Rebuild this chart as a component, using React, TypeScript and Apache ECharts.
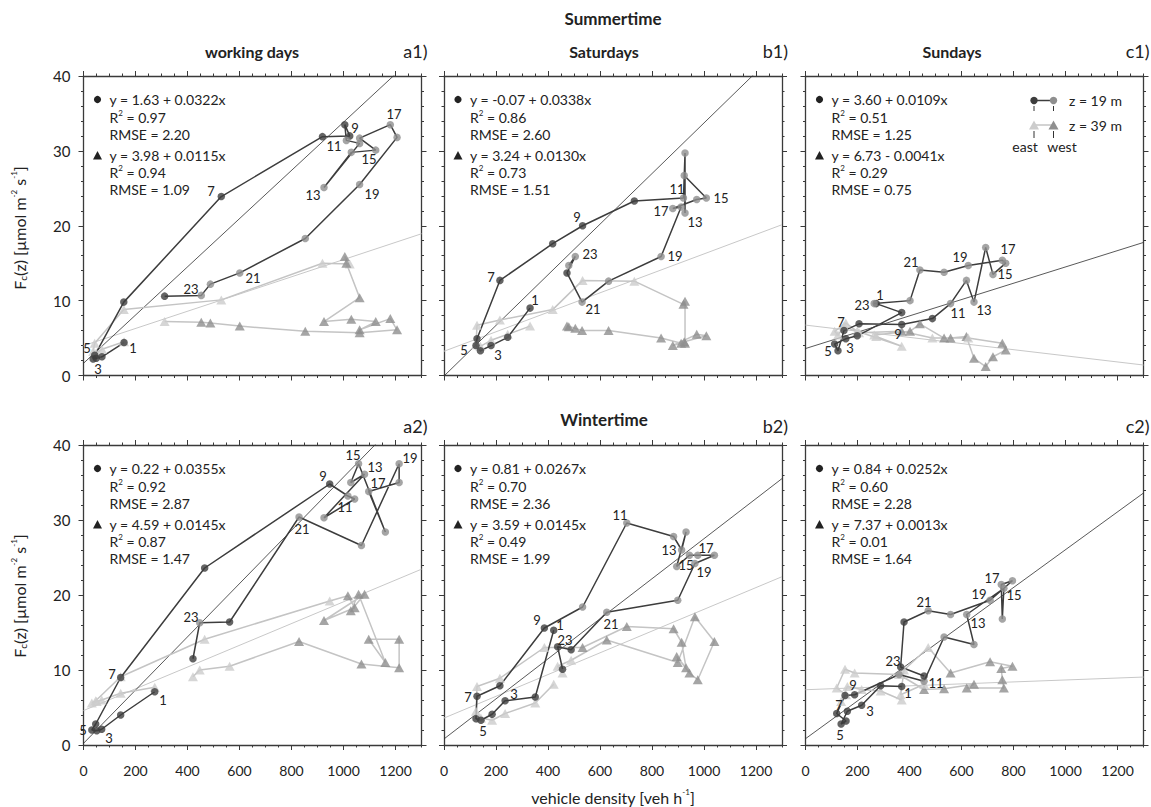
import { useEffect, useRef } from 'react';
import * as echarts from 'echarts';

const FONT = 'Lato, "Open Sans", "DejaVu Sans", sans-serif';

const seasonTitles = ['Summertime', 'Wintertime'];
const dayTitles = ['working days', 'Saturdays', 'Sundays'];
const panelTags = ['a1)', 'b1)', 'c1)', 'a2)', 'b2)', 'c2)'];
const xMajorTicks = [0, 200, 400, 600, 800, 1000, 1200];

// ---------- a1: summer, working days ----------
const a1Density = [156, 71, 49, 37, 43, 155, 530, 919, 1024, 1005, 1011, 1062, 925, 1030, 1124, 1062, 1180, 1206, 1062, 853, 601, 488, 453, 312];
const a1Flux19 = [4.4, 2.5, 2.3, 2.2, 2.7, 9.8, 23.9, 31.9, 32.0, 33.5, 31.4, 31.0, 25.1, 29.8, 30.1, 31.7, 33.5, 31.8, 25.5, 18.3, 13.7, 12.2, 10.7, 10.6];
const a1Flux39 = [4.5, 3.5, 3.0, 3.2, 4.3, 8.8, 10.1, 15.0, 14.9, 15.9, 15.0, 10.4, 7.2, 7.5, 7.2, 6.1, 7.6, 6.1, 5.7, 5.9, 6.6, 7.0, 7.1, 7.2];
const a1Wind19 = 'EEEEEEEEEEWWWWWWWWWWWWWE';
const a1Wind39 = 'EEEEEEEEEWWWWWWWWWWWWWWE';
const a1Fit = [1.63, 0.0322, 3.98, 0.0115];
const a1Stats = ['0.97', '2.20', '0.94', '1.09'];
const a1Hours = [['1', 0, 9, 5], ['3', 2, 2, 11], ['5', 4, -8, -7], ['7', 6, -10, -6], ['9', 8, 5, -8], ['11', 10, -12, 6], ['13', 12, -11, 7], ['15', 14, -7, 9], ['17', 16, 4, -11], ['19', 18, 12, 9], ['21', 20, 13, 5], ['23', 22, -10, -6]];

// ---------- b1: summer, Saturdays ----------
const b1Density = [331, 245, 181, 140, 123, 127, 215, 418, 533, 732, 921, 927, 927, 924, 1009, 972, 880, 912, 835, 633, 531, 473, 505, 480];
const b1Flux19 = [9.0, 5.1, 4.0, 3.3, 4.0, 4.9, 12.7, 17.6, 20.0, 23.3, 23.7, 29.7, 21.7, 26.7, 23.7, 23.5, 22.3, 22.5, 15.9, 12.6, 9.8, 13.7, 15.9, 14.7];
const b1Flux39 = [6.6, 5.5, 4.7, 3.9, 4.1, 6.7, 7.4, 8.8, 12.7, 12.6, 9.5, 9.9, 4.3, 4.5, 5.3, 5.5, 4.0, 4.3, 5.0, 6.0, 6.0, 6.6, 6.3, 6.5];
const b1Wind19 = 'EEEEEEEEEEWWWWWWWWWWWEWW';
const b1Wind39 = 'EEEEEEEEEEWWWWWWWWWWWWWW';
const b1Fit = [-0.07, 0.0338, 3.24, 0.013];
const b1Stats = ['0.86', '2.60', '0.73', '1.51'];
const b1Hours = [['1', 0, 5, -8], ['3', 2, 7, 9], ['5', 4, -12, 4], ['7', 6, -9, -3], ['9', 8, -6, -9], ['11', 10, -6, -9], ['13', 12, 10, 9], ['15', 14, 15, 0], ['17', 16, -12, 2], ['19', 18, 14, 0], ['21', 20, 11, 7], ['23', 22, 15, -2]];

// ---------- c1: summer, Sundays ----------
const c1Density = [272, 370, 199, 155, 112, 125, 148, 206, 370, 488, 558, 619, 648, 693, 721, 770, 757, 626, 533, 440, 402, 264];
const c1Flux19 = [9.6, 8.4, 5.3, 4.9, 4.2, 3.3, 6.0, 6.9, 6.8, 7.6, 9.6, 12.7, 9.8, 17.1, 13.5, 15.0, 15.4, 14.7, 13.8, 14.1, 10.0, 9.6];
const c1Flux39 = [5.2, 3.9, 5.9, 7.0, 5.9, 5.4, 6.6, 5.7, 5.9, 5.0, 5.0, 5.2, 2.3, 1.2, 2.5, 3.4, 4.3, 5.0, 5.0, 6.9, 5.9, 5.4];
const c1Wind19 = 'EEEEEEEEEEWWWWWWWWWWWW';
const c1Wind39 = 'EEEEEEEEWEWWWWWWWEWWWE';
const c1Fit = [3.6, 0.0109, 6.73, -0.0041];
const c1Stats = ['0.51', '1.25', '0.29', '0.75'];
const c1Hours = [['1', 0, 4, -9], ['3', 2, -7, 12], ['5', 4, -7, 7], ['7', 6, -3, -9], ['9', 8, -4, 9], ['11', 10, 7, 9], ['13', 12, 10, 8], ['15', 14, 12, 0], ['17', 16, 6, -11], ['19', 17, -8, -8], ['21', 19, -9, -8], ['23', 21, -12, 1]];

// ---------- a2: winter, working days ----------
const a2Density = [274, 143, 70, 51, 32, 47, 143, 466, 947, 1017, 1043, 925, 1081, 1028, 1058, 1161, 1097, 1214, 1214, 1069, 829, 562, 447, 421];
const a2Flux19 = [7.1, 4.0, 2.1, 1.9, 2.0, 2.8, 9.0, 23.6, 34.8, 33.2, 32.8, 30.3, 36.1, 35.0, 37.5, 28.4, 33.8, 35.0, 37.5, 26.6, 30.4, 16.4, 16.3, 11.5];
const a2Flux39 = [7.7, 6.9, 6.0, 5.8, 5.6, 5.9, 9.1, 14.1, 19.2, 19.9, 18.3, 16.6, 20.1, 17.9, 20.1, 11.0, 14.1, 14.1, 10.3, 10.8, 13.8, 10.5, 10.0, 9.1];
const a2Wind19 = 'EEEEEEEEEWWWWWWWWWWWWEWE';
const a2Wind39 = 'EEEEEEEEEWWWWWWWWWWWWEEE';
const a2Fit = [0.22, 0.0355, 4.59, 0.0145];
const a2Stats = ['0.92', '2.87', '0.87', '1.47'];
const a2Hours = [['1', 0, 8, 8], ['3', 2, 7, 9], ['5', 4, -9, 0], ['7', 6, -9, -4], ['9', 8, -7, -8], ['11', 10, -10, 8], ['13', 12, 10, -7], ['15', 14, -6, -9], ['17', 16, 9, -9], ['19', 18, 11, -6], ['21', 20, 3, 12], ['23', 22, -9, -6]];

// ---------- b2: winter, Saturdays ----------
const b2Density = [422, 351, 235, 185, 142, 123, 127, 215, 386, 533, 703, 883, 914, 931, 895, 944, 976, 1040, 965, 899, 626, 489, 437, 456];
const b2Flux19 = [15.3, 6.4, 5.9, 4.1, 3.3, 3.5, 6.5, 7.9, 15.6, 18.4, 29.6, 27.8, 26.0, 28.4, 23.8, 25.3, 25.3, 25.3, 24.2, 19.3, 17.7, 12.7, 13.1, 10.1];
const b2Flux39 = [8.1, 5.6, 4.2, 3.3, 3.6, 4.5, 7.8, 8.9, 13.0, 13.0, 15.8, 15.5, 13.7, 10.3, 11.8, 9.6, 8.7, 13.8, 17.1, 11.0, 14.0, 11.3, 10.5, 9.6];
const b2Wind19 = 'EEEEEEEEEWWWWWWWWWWWWEEE';
const b2Wind39 = 'EEEEEEEEEWWWWWWWWWWWWEEE';
const b2Fit = [0.81, 0.0267, 3.59, 0.0145];
const b2Stats = ['0.70', '2.36', '0.49', '1.99'];
const b2Hours = [['1', 0, 6, -5], ['3', 2, 9, -7], ['5', 4, 2, 11], ['7', 6, -9, 1], ['9', 8, -7, -8], ['11', 10, -7, -8], ['13', 12, -13, 0], ['15', 14, 9, -2], ['17', 16, 8, -7], ['19', 18, 9, 8], ['21', 20, 4, 12], ['23', 22, 7, -7]];

// ---------- c2: winter, Sundays ----------
const c2Density = [370, 289, 216, 161, 137, 156, 120, 152, 189, 360, 456, 533, 648, 620, 763, 757, 753, 796, 710, 558, 472, 379, 366, 456];
const c2Flux19 = [7.8, 7.9, 5.3, 4.5, 2.8, 3.2, 4.2, 6.6, 6.7, 9.4, 8.5, 14.4, 13.4, 17.4, 20.9, 16.8, 21.4, 21.9, 19.3, 17.4, 17.9, 16.4, 10.4, 9.2];
const c2Flux39 = [6.0, 7.2, 7.4, 7.8, 5.8, 6.7, 7.6, 10.1, 9.6, 9.4, 7.4, 7.5, 8.1, 7.6, 7.6, 8.7, 10.2, 10.5, 11.1, 9.6, 13.0, 10.0, 6.7, 8.1];
const c2Wind19 = 'EEEEEEEEEWWWWWWWWWWWWEEE';
const c2Wind39 = 'EEEEEEEEEEWWWWWWWWWWEEEE';
const c2Fit = [0.84, 0.0252, 7.37, 0.0013];
const c2Stats = ['0.60', '2.28', '0.01', '1.64'];
const c2Hours = [['1', 0, 6, 6], ['3', 2, 8, 6], ['5', 4, -1, 11], ['7', 6, 2, -9], ['9', 8, -2, -10], ['11', 10, 12, 2], ['13', 13, 11, 8], ['15', 14, 10, 7], ['17', 16, -9, -7], ['19', 18, -11, -6], ['21', 20, -4, -9], ['23', 22, -8, -6]];

const panels = [
  { density: a1Density, f19: a1Flux19, f39: a1Flux39, w19: a1Wind19, w39: a1Wind39, fit: a1Fit, stats: a1Stats, hours: a1Hours },
  { density: b1Density, f19: b1Flux19, f39: b1Flux39, w19: b1Wind19, w39: b1Wind39, fit: b1Fit, stats: b1Stats, hours: b1Hours },
  { density: c1Density, f19: c1Flux19, f39: c1Flux39, w19: c1Wind19, w39: c1Wind39, fit: c1Fit, stats: c1Stats, hours: c1Hours },
  { density: a2Density, f19: a2Flux19, f39: a2Flux39, w19: a2Wind19, w39: a2Wind39, fit: a2Fit, stats: a2Stats, hours: a2Hours },
  { density: b2Density, f19: b2Flux19, f39: b2Flux39, w19: b2Wind19, w39: b2Wind39, fit: b2Fit, stats: b2Stats, hours: b2Hours },
  { density: c2Density, f19: c2Flux19, f39: c2Flux39, w19: c2Wind19, w39: c2Wind39, fit: c2Fit, stats: c2Stats, hours: c2Hours },
];

// ---------- layout & style ----------
const colLeft = [83.5, 444, 805.5];
const colWidth = 338;
const rowTop = [76, 445];
const rowHeight = [299.5, 300];
const AXIS = '#3a3a3a';
const TEXT = '#222222';
const C19E = '#3d3d3d';
const C19W = '#8f8f8f';
const C39E = '#cccccc';
const C39W = '#8f8f8f';
const LINE19 = '#3d3d3d';
const LINE39 = '#c4c4c4';

const fmtEq = (a: number, b: number) =>
  `y = ${a.toFixed(2)} ${b < 0 ? '-' : '+'} ${Math.abs(b).toFixed(4)}x`;

function buildOption() {
  const grid: any[] = [];
  const xAxis: any[] = [];
  const yAxis: any[] = [];
  const series: any[] = [];
  const graphic: any[] = [];
  const tickStyle = { color: AXIS, width: 1 };
  const richSup = {
    sup: { fontSize: 8, fontFamily: FONT, fill: TEXT, verticalAlign: 'top', lineHeight: 17 },
    sub: { fontSize: 10, fontFamily: FONT, fill: TEXT, verticalAlign: 'bottom', lineHeight: 17 },
  };

  panels.forEach((p, i) => {
    const row = Math.floor(i / 3);
    const col = i % 3;
    const left = colLeft[col];
    const top = rowTop[row];
    const h = rowHeight[row];
    grid.push({ left, top, width: colWidth, height: h, containLabel: false });

    const xi = xAxis.length;
    const baseX = { gridIndex: i, type: 'value', min: 0, max: 1300, splitLine: { show: false } };
    ['bottom', 'top'].forEach((pos) => {
      xAxis.push({
        ...baseX,
        position: pos,
        interval: 200,
        axisLine: { show: true, onZero: false, lineStyle: { color: AXIS, width: 1.3 } },
        axisTick: { show: true, length: 5, customValues: xMajorTicks, lineStyle: tickStyle },
        axisLabel: {
          show: pos === 'bottom' && row === 1,
          customValues: xMajorTicks,
          margin: 18,
          fontSize: 14,
          fontFamily: FONT,
          color: TEXT,
          formatter: (v: number) => (v % 200 === 0 ? String(v) : ''),
        },
      });
      xAxis.push({
        ...baseX,
        position: pos,
        interval: 50,
        axisLine: { show: false, onZero: false },
        axisTick: { show: true, length: 2.5, lineStyle: tickStyle },
        axisLabel: { show: false },
      });
    });

    const yi = yAxis.length;
    ['left', 'right'].forEach((pos) => {
      yAxis.push({
        gridIndex: i,
        type: 'value',
        min: 0,
        max: 40,
        interval: 10,
        position: pos,
        axisLine: { show: true, onZero: false, lineStyle: { color: AXIS, width: 1.3 } },
        axisTick: { show: true, length: 5, lineStyle: tickStyle },
        minorTick: { show: true, splitNumber: 5, length: 2.5, lineStyle: tickStyle },
        axisLabel: {
          show: pos === 'left' && col === 0,
          margin: 13,
          fontSize: 15,
          fontFamily: FONT,
          color: TEXT,
        },
        splitLine: { show: false },
        minorSplitLine: { show: false },
      });
    });

    const common = { xAxisIndex: xi, yAxisIndex: yi, silent: true };
    const [a19, b19, a39, b39] = p.fit;
    series.push({
      ...common,
      type: 'line',
      data: [[0, a39], [1300, a39 + 1300 * b39]],
      symbol: 'none',
      lineStyle: { color: '#c8c8c8', width: 1 },
      z: 1,
    });
    series.push({
      ...common,
      type: 'line',
      data: [[0, a19], [1300, a19 + 1300 * b19]],
      symbol: 'none',
      lineStyle: { color: '#2e2e2e', width: 0.8 },
      z: 1,
    });
    series.push({
      ...common,
      type: 'line',
      data: p.density.map((x, k) => [x, p.f39[k]]),
      symbol: 'none',
      lineStyle: { color: LINE39, width: 1.5 },
      z: 2,
    });
    series.push({
      ...common,
      type: 'line',
      data: p.density.map((x, k) => [x, p.f19[k]]),
      symbol: 'none',
      lineStyle: { color: LINE19, width: 1.5 },
      z: 3,
    });
    series.push({
      ...common,
      type: 'scatter',
      symbol: 'triangle',
      symbolSize: [10, 9],
      data: p.density.map((x, k) => ({
        value: [x, p.f39[k]],
        itemStyle: { color: p.w39[k] === 'E' ? C39E : C39W },
      })),
      z: 4,
    });
    series.push({
      ...common,
      type: 'scatter',
      symbol: 'circle',
      symbolSize: 7.5,
      data: p.density.map((x, k) => ({
        value: [x, p.f19[k]],
        itemStyle: { color: p.w19[k] === 'E' ? C19E : C19W },
      })),
      z: 5,
    });
    // hour labels: placed at the data point of the labelled hour, with a pixel offset
    const hours = p.hours as any[];
    series.push({
      ...common,
      type: 'custom',
      clip: false,
      data: hours.map(([, idx, dx, dy]) => [p.density[idx], p.f19[idx], dx, dy]),
      renderItem: (params: any, api: any) => {
        const pt = api.coord([api.value(0), api.value(1)]);
        return {
          type: 'text',
          x: Math.round(pt[0] + api.value(2)),
          y: Math.round(pt[1] + api.value(3)),
          style: {
            text: hours[params.dataIndex][0],
            fontSize: 13,
            fontFamily: FONT,
            fill: TEXT,
            lineWidth: 0,
            align: 'center',
            verticalAlign: 'middle',
          },
        };
      },
      z: 6,
    });

    // regression statistics text
    const lines = [
      fmtEq(a19, b19),
      `R{sup|2} = ${p.stats[0]}`,
      `RMSE = ${p.stats[1]}`,
      fmtEq(a39, b39),
      `R{sup|2} = ${p.stats[2]}`,
      `RMSE = ${p.stats[3]}`,
    ];
    const offs = [23.5, 41, 58.5, 79.5, 96.5, 113];
    lines.forEach((txt, k) => {
      graphic.push({
        type: 'text',
        x: left + 26,
        y: top + offs[k],
        silent: true,
        style: {
          text: txt,
          fontSize: 14,
          fontFamily: FONT,
          fill: TEXT,
          align: 'left',
          verticalAlign: 'middle',
          lineHeight: 17,
          rich: richSup,
        },
      });
    });
    graphic.push({
      type: 'circle',
      silent: true,
      shape: { cx: left + 14, cy: top + offs[0], r: 3.6 },
      style: { fill: TEXT },
    });
    const ty = top + offs[3];
    graphic.push({
      type: 'polygon',
      silent: true,
      shape: { points: [[left + 9.5, ty + 4], [left + 18.5, ty + 4], [left + 14, ty - 4.5]] },
      style: { fill: TEXT },
    });

    // panel tag
    graphic.push({
      type: 'text',
      x: left + colWidth + 6,
      y: row === 0 ? 51 : 426,
      silent: true,
      style: { text: panelTags[i], fontSize: 18, fontFamily: FONT, fill: TEXT, align: 'right', verticalAlign: 'middle' },
    });
  });

  // titles
  graphic.push({
    type: 'text', x: 613, y: 18, silent: true,
    style: { text: seasonTitles[0], fontSize: 17, fontWeight: 'bold', fontFamily: FONT, fill: TEXT, align: 'center', verticalAlign: 'middle' },
  });
  graphic.push({
    type: 'text', x: 604, y: 419, silent: true,
    style: { text: seasonTitles[1], fontSize: 17, fontWeight: 'bold', fontFamily: FONT, fill: TEXT, align: 'center', verticalAlign: 'middle' },
  });
  const subX = [252, 604, 952];
  dayTitles.forEach((t, k) => {
    graphic.push({
      type: 'text', x: subX[k], y: 51, silent: true,
      style: { text: t, fontSize: 16, fontWeight: 'bold', fontFamily: FONT, fill: TEXT, align: 'center', verticalAlign: 'middle' },
    });
  });

  // axis titles
  const yTitle = 'F{sub|c}(z) [µmol m{sup|-2} s{sup|-1}]';
  [228, 596].forEach((cy) => {
    graphic.push({
      type: 'text', x: 19, y: cy, rotation: Math.PI / 2, silent: true,
      style: {
        text: yTitle, fontSize: 16, fontFamily: FONT, fill: TEXT, align: 'center', verticalAlign: 'middle',
        lineHeight: 18, rich: richSup,
      },
    });
  });
  graphic.push({
    type: 'text', x: 613, y: 797, silent: true,
    style: {
      text: 'vehicle density [veh h{sup|-1}]', fontSize: 16, fontFamily: FONT, fill: TEXT,
      align: 'center', verticalAlign: 'middle', lineHeight: 18, rich: richSup,
    },
  });

  // legend (panel c1)
  const lx1 = 1034;
  const lx2 = 1053.5;
  const ly1 = 100.5;
  const ly2 = 125;
  const lgText = { fontSize: 14, fontFamily: FONT, fill: TEXT, verticalAlign: 'middle' };
  graphic.push(
    { type: 'line', silent: true, shape: { x1: lx1, y1: ly1, x2: lx2, y2: ly1 }, style: { stroke: LINE19, lineWidth: 1.5 } },
    { type: 'circle', silent: true, shape: { cx: lx1, cy: ly1, r: 3.7 }, style: { fill: C19E } },
    { type: 'circle', silent: true, shape: { cx: lx2, cy: ly1, r: 3.7 }, style: { fill: C19W } },
    { type: 'line', silent: true, shape: { x1: lx1, y1: ly2, x2: lx2, y2: ly2 }, style: { stroke: LINE39, lineWidth: 1.5 } },
    { type: 'polygon', silent: true, shape: { points: [[lx1 - 5, ly2 + 4.5], [lx1 + 5, ly2 + 4.5], [lx1, ly2 - 4.5]] }, style: { fill: C39E } },
    { type: 'polygon', silent: true, shape: { points: [[lx2 - 5, ly2 + 4.5], [lx2 + 5, ly2 + 4.5], [lx2, ly2 - 4.5]] }, style: { fill: C39W } },
    { type: 'line', silent: true, shape: { x1: lx1, y1: 106, x2: lx1, y2: 111 }, style: { stroke: '#333', lineWidth: 1 } },
    { type: 'line', silent: true, shape: { x1: lx2, y1: 106, x2: lx2, y2: 111 }, style: { stroke: '#333', lineWidth: 1 } },
    { type: 'line', silent: true, shape: { x1: lx1, y1: 131, x2: lx1, y2: 138 }, style: { stroke: '#333', lineWidth: 1 } },
    { type: 'line', silent: true, shape: { x1: lx2, y1: 131, x2: lx2, y2: 138 }, style: { stroke: '#333', lineWidth: 1 } },
    { type: 'text', silent: true, x: 1069, y: ly1, style: { ...lgText, text: 'z = 19 m', align: 'left' } },
    { type: 'text', silent: true, x: 1069, y: ly2, style: { ...lgText, text: 'z = 39 m', align: 'left' } },
    { type: 'text', silent: true, x: 1025, y: 146, style: { ...lgText, text: 'east', align: 'center' } },
    { type: 'text', silent: true, x: 1062, y: 146, style: { ...lgText, text: 'west', align: 'center' } },
  );

  return {
    animation: false,
    backgroundColor: '#ffffff',
    textStyle: { fontFamily: FONT },
    grid,
    xAxis,
    yAxis,
    series,
    graphic,
  };
}

export default function App() {
  const ref = useRef<HTMLDivElement>(null);
  useEffect(() => {
    if (!ref.current) return;
    const chart = echarts.init(ref.current, undefined, { renderer: 'svg' });
    chart.setOption(buildOption() as any);
    return () => chart.dispose();
  }, []);
  return (
    <div
      ref={ref}
      style={{ position: 'fixed', left: 0, top: 0, width: 1151, height: 807, background: '#fff' }}
    />
  );
}
